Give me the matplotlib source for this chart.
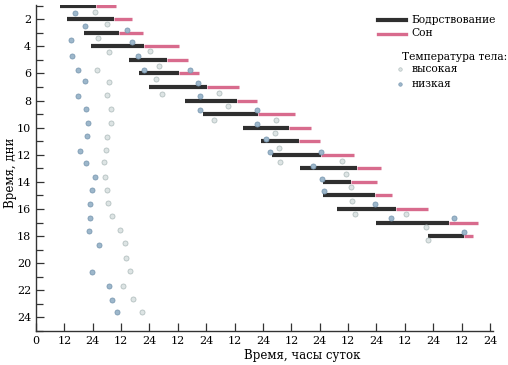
import matplotlib
matplotlib.use("Agg")
import matplotlib.pyplot as plt
from matplotlib.lines import Line2D
from matplotlib.ticker import FixedLocator

# ---- data (hours from start of plot, day index) ----
bar_days   = [1, 2, 3, 4, 5, 6, 7, 8, 9, 10, 11, 12, 13, 14, 15, 16, 17, 18]
wake_start = [10.1, 13.0, 20.1, 23.2, 39.2, 43.4, 47.9, 63.0, 70.6, 87.5, 95.1,
              100.0, 111.5, 121.4, 121.4, 127.5, 143.9, 166.0]
wake_end   = [25.3, 32.8, 35.2, 45.5, 55.2, 60.3, 72.2, 84.9, 93.8, 106.9, 111.1,
              120.4, 135.9, 133.4, 143.2, 152.4, 174.5, 180.9]
sleep_end  = [33.8, 40.6, 45.3, 60.3, 64.5, 69.0, 85.8, 93.4, 109.4, 116.2, 120.0,
              134.3, 145.8, 144.1, 150.5, 166.0, 186.9, 184.7]

# low body temperature points
low_hours = [16.4, 20.7, 14.7, 15.3, 17.6, 20.7, 17.9, 21.1, 22.0, 21.7, 18.7, 21.1,
             25.1, 23.7, 22.8, 22.9, 22.5, 26.7, 23.7, 30.7, 32.1, 34.2,
             38.3, 40.4, 43.2, 45.8, 65.1, 68.6, 69.3, 69.4, 93.5, 93.5,
             97.2, 98.9, 120.4, 117.0, 120.8, 121.9, 143.2, 150.1, 177.0, 181.2]
low_days  = [1.54, 2.52, 3.50, 4.70, 5.71, 6.59, 7.65, 8.65, 9.69, 10.62, 11.71, 12.59,
             13.62, 14.60, 15.66, 16.64, 17.62, 18.65, 20.67, 21.68, 22.71, 23.61,
             2.76, 3.69, 4.73, 5.71, 5.71, 6.69, 7.67, 8.71, 8.71, 9.74,
             10.82, 11.82, 11.82, 12.81, 13.75, 14.68, 15.66, 16.66, 16.66, 17.67]

# high body temperature points
high_hours = [24.8, 30.1, 26.3, 31.0, 25.8, 31.0, 29.9, 31.8, 31.6, 30.1, 29.6, 28.6,
              29.0, 29.9, 30.5, 32.2, 35.6, 37.7, 38.1, 39.8, 36.8, 41.0, 44.8,
              48.2, 52.0, 50.8, 53.1, 77.4, 81.0, 75.2, 101.7, 101.0, 102.8, 103.4,
              129.5, 131.3, 133.4, 133.7, 134.8, 156.6, 165.1, 165.8]
high_days  = [1.46, 2.37, 3.42, 4.45, 5.71, 6.62, 7.62, 8.61, 9.69, 10.67, 11.65, 12.56,
              13.67, 14.60, 15.58, 16.52, 17.57, 18.51, 19.63, 20.55, 21.70, 22.61, 23.57,
              4.36, 5.44, 6.44, 7.48, 7.43, 8.37, 9.44, 9.42, 10.38, 11.48, 12.56,
              12.46, 13.42, 14.38, 15.38, 16.37, 16.37, 17.31, 18.28]

x_ticks = list(range(0, 193, 12))
x_labels = ["0"] + ["12" if (t // 12) % 2 == 1 else "24" for t in x_ticks[1:]]
y_major = list(range(2, 25, 2))
y_minor = list(range(1, 26, 2))

# ---- figure ----
plt.rcParams['font.family'] = ['DejaVu Serif']
fig = plt.figure(figsize=(5.08, 3.65), dpi=100)
W, H = 508, 365
ax = fig.add_axes([36 / W, 34 / H, 457 / W, 326 / H])

BLACK = "#2f2f2f"
PINK = "#d86b8d"
LOWC = "#9db7cb"
LOWE = "#7d9bb3"
HIGHC = "#dde4e4"
HIGHE = "#b4c1c1"

ax.hlines(bar_days, wake_end, sleep_end, colors=PINK, linewidth=2.4, zorder=2)
ax.hlines(bar_days, wake_start, wake_end, colors=BLACK, linewidth=3.0, zorder=3)

ax.scatter(low_hours, low_days, s=13, c=LOWC, edgecolors=LOWE, linewidths=0.6, zorder=4)
ax.scatter(high_hours, high_days, s=13, c=HIGHC, edgecolors=HIGHE, linewidths=0.6, zorder=4)

ax.set_xlim(0, 193.3)
ax.set_ylim(25, 0.95)
ax.set_xticks(x_ticks)
ax.set_xticklabels(x_labels)
ax.yaxis.set_major_locator(FixedLocator(y_major))
ax.yaxis.set_minor_locator(FixedLocator(y_minor))
ax.tick_params(axis='both', which='both', direction='in', labelsize=8, color='#333333')
ax.tick_params(axis='both', which='major', length=6, width=0.9)
ax.tick_params(axis='y', which='minor', length=5, width=0.9)
for s in ['top', 'right']:
    ax.spines[s].set_visible(False)
for s in ['left', 'bottom']:
    ax.spines[s].set_linewidth(1.0)
    ax.spines[s].set_color('#333333')

ax.set_xlabel("Время, часы суток", fontsize=8.5)
ax.xaxis.set_label_coords((302 - 36) / 457, -0.055)
ax.set_ylabel("Время, дни", fontsize=8.5)
ax.yaxis.set_label_coords(-0.042, 0.485)

# ---- legend (manual) ----
def fx(px):
    return px / W

def fy(py):
    return 1 - py / H

LFS = 7.7
fig.add_artist(Line2D([fx(378), fx(406)], [fy(20), fy(20)], color=BLACK, lw=3.0))
fig.add_artist(Line2D([fx(378), fx(406)], [fy(33.5), fy(33.5)], color=PINK, lw=2.4))
fig.text(fx(411), fy(20), "Бодрствование", fontsize=LFS, va='center', ha='left')
fig.text(fx(411), fy(33.5), "Сон", fontsize=LFS, va='center', ha='left')
fig.text(fx(402), fy(57), "Температура тела:", fontsize=LFS, va='center', ha='left')
fig.add_artist(Line2D([fx(400)], [fy(69)], marker='o', ms=2.5, color=HIGHC,
                      markeredgecolor=HIGHE, markeredgewidth=0.5, ls='none'))
fig.add_artist(Line2D([fx(400)], [fy(84)], marker='o', ms=2.5, color=LOWC,
                      markeredgecolor=LOWE, markeredgewidth=0.5, ls='none'))
fig.text(fx(412), fy(69), "высокая", fontsize=LFS, va='center', ha='left')
fig.text(fx(412), fy(84), "низкая", fontsize=LFS, va='center', ha='left')

fig.savefig("out.png", dpi=100)
